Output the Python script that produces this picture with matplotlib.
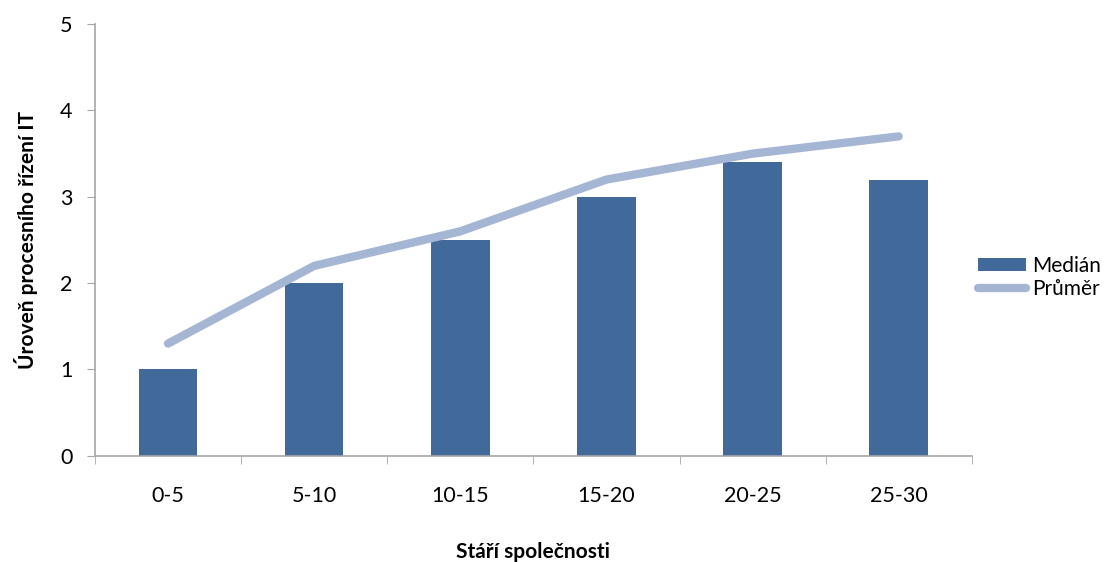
import matplotlib
matplotlib.use("Agg")
import matplotlib.pyplot as plt
import numpy as np

categories = ["0-5", "5-10", "10-15", "15-20", "20-25", "25-30"]
median = [1.0, 2.0, 2.5, 3.0, 3.4, 3.2]
mean = [1.3, 2.2, 2.6, 3.2, 3.5, 3.7]

bar_color = "#416A9B"
line_color = "#A5B6D4"
axis_color = "#A6A6A6"

plt.rcParams["font.family"] = ["Lato", "DejaVu Sans"]

fig = plt.figure(figsize=(11.17, 5.62), dpi=100)
ax = fig.add_axes([0.085, 0.189, 0.785, 0.768])

x = np.arange(len(categories))
bars = ax.bar(x, median, width=0.4, color=bar_color, label="Medián", zorder=2)
line, = ax.plot(x, mean, color=line_color, linewidth=6, solid_capstyle="round",
                label="Průměr", zorder=3)

ax.set_xlim(-0.5, len(categories) - 0.5)
ax.set_ylim(0, 5)
ax.set_yticks(range(6))
ax.set_xticks(x)
ax.set_xticklabels(categories)
ax.set_xticks(np.arange(-0.5, len(categories)), minor=True)
ax.tick_params(axis="x", which="major", length=0, pad=22, labelsize=15.5)
ax.tick_params(axis="x", which="minor", length=6, color=axis_color)
ax.tick_params(axis="y", length=6, color=axis_color, pad=10, labelsize=15.5)

for side in ["top", "right"]:
    ax.spines[side].set_visible(False)
for side in ["left", "bottom"]:
    ax.spines[side].set_color(axis_color)
    ax.spines[side].set_linewidth(1.2)

ax.set_ylabel("Úroveň procesního řízení IT", fontsize=15, fontweight="bold", labelpad=16)
ax.set_xlabel("Stáří společnosti", fontsize=15, fontweight="bold", labelpad=26)

ax.legend([bars, line], ["Medián", "Průměr"], loc="center left",
          bbox_to_anchor=(1.0, 0.414), frameon=False, fontsize=15,
          handlelength=2.3, handleheight=0.6, handletextpad=0.3,
          labelspacing=0.15, borderpad=0, borderaxespad=0.3)

fig.savefig("out.png", dpi=100)
